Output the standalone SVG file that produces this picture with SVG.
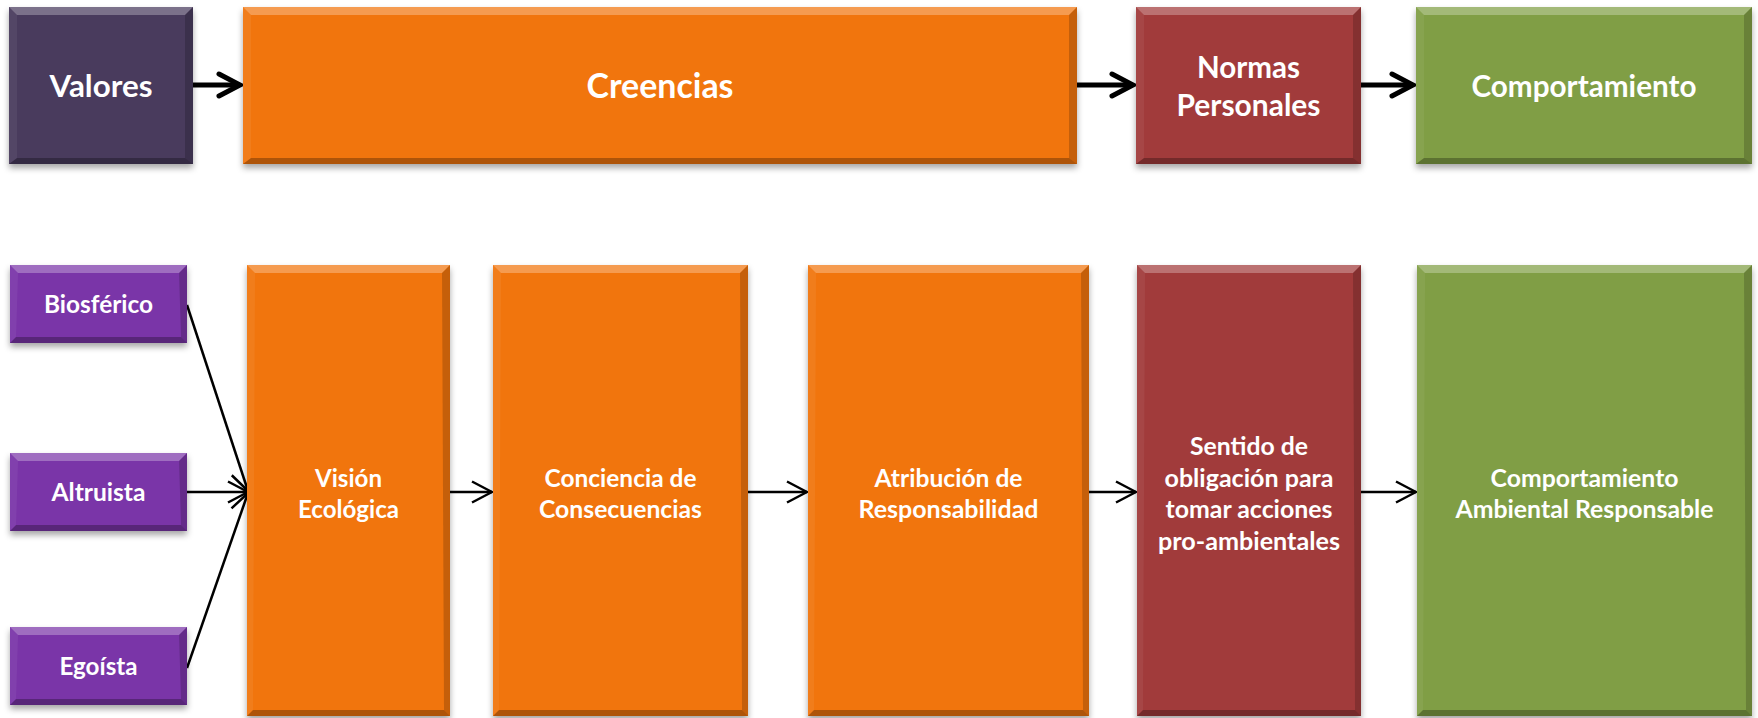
<svg xmlns="http://www.w3.org/2000/svg" width="1758" height="718" viewBox="0 0 1758 718">
<defs>
<style>
text{font-family:Lato,"Open Sans","Liberation Sans",sans-serif;font-weight:bold;fill:#fff;text-anchor:middle}
.big{font-size:31px}
.huge{font-size:35px}
.sm{font-size:25px}
.valores{fill:#4A3A5D}
.orange{fill:#F17511}
.red{fill:#A13B3B}
.green{fill:#809E45}
.purple{fill:#7A35A8}
.bt{fill:#fff;opacity:.28}
.bb{fill:#000;opacity:.28}
.bl{fill:#fff;opacity:.06}
.br{fill:#000;opacity:.18}
.thick{stroke:#000;stroke-width:5;fill:none}
.thin{stroke:#000;stroke-width:2.5;fill:none}
</style>
<filter id="sh" x="-10%" y="-10%" width="120%" height="130%">
<feDropShadow dx="0" dy="4" stdDeviation="3" flood-color="#000" flood-opacity="0.35"/>
</filter>
<marker id="ah" markerUnits="userSpaceOnUse" viewBox="0 0 28 28" refX="25" refY="14" markerWidth="28" markerHeight="28" orient="auto">
<path d="M4,3 L25,14 L4,25" fill="none" stroke="#000" stroke-width="5" stroke-linecap="round" stroke-linejoin="miter"/>
</marker>
<marker id="at" markerUnits="userSpaceOnUse" viewBox="0 0 24 24" refX="22" refY="12" markerWidth="24" markerHeight="24" orient="auto">
<path d="M2,1.5 L22,12 L2,22.5" fill="none" stroke="#000" stroke-width="2.5"/>
</marker>
</defs>
<rect width="1758" height="718" fill="#fff"/>

<g id="connectors">
<line class="thick" x1="193" y1="85" x2="240" y2="85" marker-end="url(#ah)"/>
<line class="thick" x1="1077" y1="85" x2="1133" y2="85" marker-end="url(#ah)"/>
<line class="thick" x1="1361" y1="85" x2="1413" y2="85" marker-end="url(#ah)"/>
<line class="thin" x1="187" y1="305" x2="248" y2="491" marker-end="url(#at)"/>
<line class="thin" x1="187" y1="492" x2="248" y2="492" marker-end="url(#at)"/>
<line class="thin" x1="187" y1="668" x2="248" y2="493" marker-end="url(#at)"/>
<line class="thin" x1="450" y1="492" x2="492" y2="492" marker-end="url(#at)"/>
<line class="thin" x1="748" y1="492" x2="807" y2="492" marker-end="url(#at)"/>
<line class="thin" x1="1089" y1="492" x2="1136" y2="492" marker-end="url(#at)"/>
<line class="thin" x1="1361" y1="492" x2="1416" y2="492" marker-end="url(#at)"/>
</g>

<g id="valores">
<rect class="valores" x="9" y="7" width="184" height="157" filter="url(#sh)"/>
<polygon class="bt" points="9,7 193,7 185,15 17,15"/>
<polygon class="bb" points="9,164 193,164 185,158 17,158"/>
<polygon class="bl" points="9,7 17,15 17,158 9,164"/>
<polygon class="br" points="193,7 185,15 185,158 193,164"/>
<text class="big" x="101" y="97" textLength="103" lengthAdjust="spacingAndGlyphs">Valores</text>
</g>

<g id="creencias">
<rect class="orange" x="243" y="7" width="834" height="157" filter="url(#sh)"/>
<polygon class="bt" points="243,7 1077,7 1069,15 251,15"/>
<polygon class="bb" points="243,164 1077,164 1069,158 251,158"/>
<polygon class="bl" points="243,7 251,15 251,158 243,164"/>
<polygon class="br" points="1077,7 1069,15 1069,158 1077,164"/>
<text class="huge" x="660" y="98" textLength="147" lengthAdjust="spacingAndGlyphs">Creencias</text>
</g>

<g id="normas">
<rect class="red" x="1136" y="7" width="225" height="157" filter="url(#sh)"/>
<polygon class="bt" points="1136,7 1361,7 1353,15 1144,15"/>
<polygon class="bb" points="1136,164 1361,164 1353,158 1144,158"/>
<polygon class="bl" points="1136,7 1144,15 1144,158 1136,164"/>
<polygon class="br" points="1361,7 1353,15 1353,158 1361,164"/>
<text class="big" x="1248.5" y="78" textLength="103" lengthAdjust="spacingAndGlyphs">Normas</text>
<text class="big" x="1248.5" y="116" textLength="144" lengthAdjust="spacingAndGlyphs">Personales</text>
</g>

<g id="comportamiento">
<rect class="green" x="1416" y="7" width="336" height="157" filter="url(#sh)"/>
<polygon class="bt" points="1416,7 1752,7 1744,15 1424,15"/>
<polygon class="bb" points="1416,164 1752,164 1744,158 1424,158"/>
<polygon class="bl" points="1416,7 1424,15 1424,158 1416,164"/>
<polygon class="br" points="1752,7 1744,15 1744,158 1752,164"/>
<text class="big" x="1584" y="97" textLength="225" lengthAdjust="spacingAndGlyphs">Comportamiento</text>
</g>

<g id="biosferico">
<rect class="purple" x="10" y="265" width="177" height="78" filter="url(#sh)"/>
<polygon class="bt" points="10,265 187,265 179,273 18,273"/>
<polygon class="bb" points="10,343 187,343 181,337 16,337"/>
<polygon class="bl" points="10,265 18,273 16,337 10,343"/>
<polygon class="br" points="187,265 179,273 181,337 187,343"/>
<text class="sm" x="98.5" y="313" textLength="109" lengthAdjust="spacingAndGlyphs">Biosférico</text>
</g>

<g id="altruista">
<rect class="purple" x="10" y="453" width="177" height="78" filter="url(#sh)"/>
<polygon class="bt" points="10,453 187,453 179,461 18,461"/>
<polygon class="bb" points="10,531 187,531 181,525 16,525"/>
<polygon class="bl" points="10,453 18,461 16,525 10,531"/>
<polygon class="br" points="187,453 179,461 181,525 187,531"/>
<text class="sm" x="98.5" y="501" textLength="94" lengthAdjust="spacingAndGlyphs">Altruista</text>
</g>

<g id="egoista">
<rect class="purple" x="10" y="627" width="177" height="78" filter="url(#sh)"/>
<polygon class="bt" points="10,627 187,627 179,635 18,635"/>
<polygon class="bb" points="10,705 187,705 181,699 16,699"/>
<polygon class="bl" points="10,627 18,635 16,699 10,705"/>
<polygon class="br" points="187,627 179,635 181,699 187,705"/>
<text class="sm" x="98.5" y="675" textLength="78" lengthAdjust="spacingAndGlyphs">Egoísta</text>
</g>

<g id="vision">
<rect class="orange" x="247" y="265" width="203" height="451" filter="url(#sh)"/>
<polygon class="bt" points="247,265 450,265 442,273 255,273"/>
<polygon class="bb" points="247,716 450,716 444,710 253,710"/>
<polygon class="bl" points="247,265 255,273 253,710 247,716"/>
<polygon class="br" points="450,265 442,273 444,710 450,716"/>
<text class="sm" x="348.5" y="487" textLength="67" lengthAdjust="spacingAndGlyphs">Visión</text>
<text class="sm" x="348.5" y="518" textLength="101" lengthAdjust="spacingAndGlyphs">Ecológica</text>
</g>

<g id="conciencia">
<rect class="orange" x="493" y="265" width="255" height="451" filter="url(#sh)"/>
<polygon class="bt" points="493,265 748,265 740,273 501,273"/>
<polygon class="bb" points="493,716 748,716 742,710 499,710"/>
<polygon class="bl" points="493,265 501,273 499,710 493,716"/>
<polygon class="br" points="748,265 740,273 742,710 748,716"/>
<text class="sm" x="620.5" y="487" textLength="152" lengthAdjust="spacingAndGlyphs">Conciencia de</text>
<text class="sm" x="620.5" y="518" textLength="163" lengthAdjust="spacingAndGlyphs">Consecuencias</text>
</g>

<g id="atribucion">
<rect class="orange" x="808" y="265" width="281" height="451" filter="url(#sh)"/>
<polygon class="bt" points="808,265 1089,265 1081,273 816,273"/>
<polygon class="bb" points="808,716 1089,716 1083,710 814,710"/>
<polygon class="bl" points="808,265 816,273 814,710 808,716"/>
<polygon class="br" points="1089,265 1081,273 1083,710 1089,716"/>
<text class="sm" x="948.5" y="487" textLength="148" lengthAdjust="spacingAndGlyphs">Atribución de</text>
<text class="sm" x="948.5" y="518" textLength="180" lengthAdjust="spacingAndGlyphs">Responsabilidad</text>
</g>

<g id="sentido">
<rect class="red" x="1137" y="265" width="224" height="451" filter="url(#sh)"/>
<polygon class="bt" points="1137,265 1361,265 1353,273 1145,273"/>
<polygon class="bb" points="1137,716 1361,716 1355,710 1143,710"/>
<polygon class="bl" points="1137,265 1145,273 1143,710 1137,716"/>
<polygon class="br" points="1361,265 1353,273 1355,710 1361,716"/>
<text class="sm" x="1249" y="455" textLength="118" lengthAdjust="spacingAndGlyphs">Sentido de</text>
<text class="sm" x="1249" y="487" textLength="169" lengthAdjust="spacingAndGlyphs">obligación para</text>
<text class="sm" x="1249" y="518" textLength="167" lengthAdjust="spacingAndGlyphs">tomar acciones</text>
<text class="sm" x="1249" y="550" textLength="182" lengthAdjust="spacingAndGlyphs">pro-ambientales</text>
</g>

<g id="comportamiento-ambiental">
<rect class="green" x="1417" y="265" width="335" height="451" filter="url(#sh)"/>
<polygon class="bt" points="1417,265 1752,265 1744,273 1425,273"/>
<polygon class="bb" points="1417,716 1752,716 1746,710 1423,710"/>
<polygon class="bl" points="1417,265 1425,273 1423,710 1417,716"/>
<polygon class="br" points="1752,265 1744,273 1746,710 1752,716"/>
<text class="sm" x="1584.5" y="487" textLength="188" lengthAdjust="spacingAndGlyphs">Comportamiento</text>
<text class="sm" x="1584.5" y="518" textLength="258" lengthAdjust="spacingAndGlyphs">Ambiental Responsable</text>
</g>
</svg>
